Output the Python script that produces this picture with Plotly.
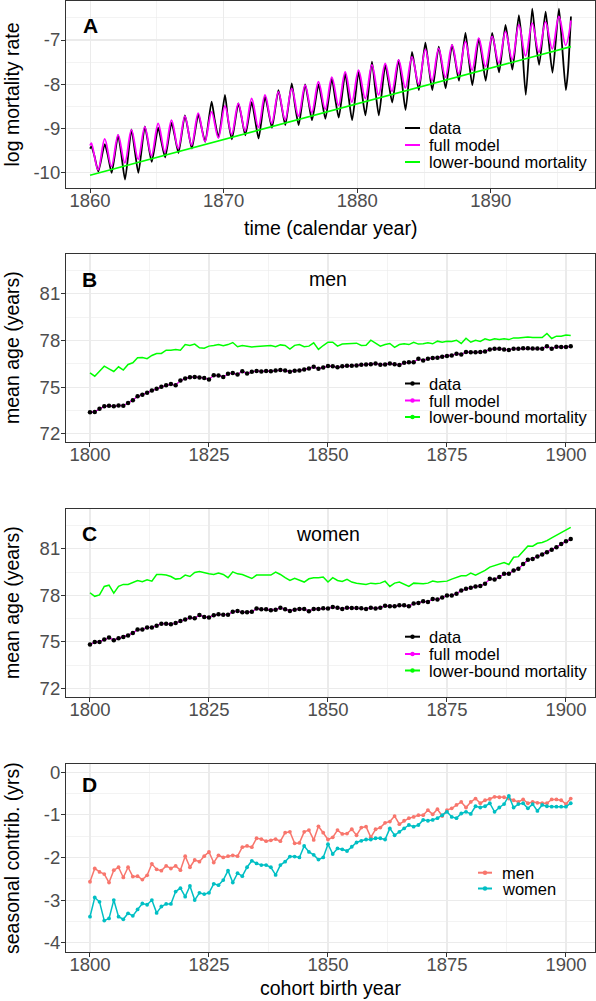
import plotly.graph_objects as go

W, H = 596, 1001
FONT = "Liberation Sans, Arial, Helvetica, sans-serif"

# ---------------- Panel A: monthly log mortality ----------------
years_a = list(range(1860, 1896))
model_start, model_end = -9.38, -6.56
model_peak = [-9.33, -9.23, -9.14, -9.03, -8.96, -8.88, -8.81, -8.72, -8.65, -8.62,
              -8.49, -8.43, -8.32, -8.24, -8.17, -8.09, -8.02, -7.94, -7.84, -7.72,
              -7.68, -7.56, -7.53, -7.45, -7.38, -7.21, -7.19, -7.11, -7.04, -6.96,
              -6.92, -6.81, -6.66, -6.62, -6.59, -6.47]
model_trough = [-9.93, -9.85, -9.77, -9.69, -9.61, -9.53, -9.45, -9.37, -9.29, -9.21,
                -9.13, -9.05, -8.97, -8.88, -8.80, -8.72, -8.64, -8.56, -8.48, -8.40,
                -8.32, -8.24, -8.16, -8.08, -8.00, -7.92, -7.84, -7.76, -7.68, -7.60,
                -7.52, -7.44, -7.36, -7.28, -7.20, -7.12]
data_start = -9.45
data_peak = [-9.40, -9.35, -9.15, -9.02, -8.95, -8.98, -8.87, -8.70, -8.68, -8.39,
             -8.24, -8.43, -8.40, -8.28, -8.13, -7.98, -8.00, -8.00, -7.87, -7.76,
             -7.72, -7.49, -7.56, -7.45, -7.27, -7.06, -7.15, -7.11, -6.84, -6.97,
             -6.84, -6.66, -6.44, -6.29, -6.36, -6.29]
data_mid = [-9.62, -9.60, -9.55, -9.45, -9.30, -9.28, -9.15, -9.02, -8.95, -8.80,
            -8.80, -8.72, -8.75, -8.58, -8.48, -8.45, -8.35, -8.32, -8.28, -8.22,
            -8.15, -8.05, -7.92, -7.90, -7.65, -7.55, -7.55, -7.45, -7.38, -7.35,
            -7.22, -7.10, -7.05, -6.95, -7.00, -7.10]
data_trough = [-9.97, -10.00, -10.15, -10.00, -9.75, -9.65, -9.55, -9.45, -9.30, -9.20,
               -9.24, -9.15, -9.22, -8.98, -8.92, -8.92, -8.81, -8.78, -8.75, -8.81,
               -8.70, -8.70, -8.41, -8.58, -8.13, -8.13, -8.09, -7.92, -8.02, -7.92,
               -7.73, -7.67, -8.24, -7.56, -7.74, -8.13]
data_tail_t = [1895.78, 1896.0]
data_tail_v = [-7.70, -6.47]
lb_time = [1860, 1896]
lb_vals = [-10.05, -7.15]

# ---------------- Panels B-D: cohorts ----------------
cohort = list(range(1800, 1902))
men_data = [73.38, 73.40, 73.60, 73.76, 73.80, 73.76, 73.82, 73.80, 73.98, 74.15,
            74.41, 74.50, 74.63, 74.78, 74.89, 75.02, 75.12, 75.20, 75.12, 75.42,
            75.55, 75.63, 75.65, 75.61, 75.59, 75.48, 75.76, 75.74, 75.65, 75.85,
            75.91, 75.80, 76.02, 75.87, 75.98, 76.04, 76.00, 76.04, 76.02, 76.06,
            76.09, 76.06, 75.98, 76.05, 76.06, 76.13, 76.20, 76.30, 76.17, 76.26,
            76.35, 76.33, 76.28, 76.33, 76.37, 76.37, 76.39, 76.43, 76.45, 76.47,
            76.52, 76.43, 76.45, 76.52, 76.47, 76.41, 76.56, 76.60, 76.60, 76.82,
            76.71, 76.82, 76.86, 76.88, 76.95, 76.99, 77.03, 77.14, 77.10, 77.25,
            77.23, 77.23, 77.25, 77.29, 77.42, 77.46, 77.46, 77.42, 77.38, 77.46,
            77.46, 77.50, 77.50, 77.48, 77.48, 77.46, 77.63, 77.46, 77.59, 77.57,
            77.57, 77.63]
men_model = [73.40, 73.42, 73.60, 73.74, 73.80, 73.78, 73.81, 73.82, 73.98, 74.16,
             74.40, 74.50, 74.62, 74.77, 74.90, 75.02, 75.11, 75.19, 75.14, 75.40,
             75.55, 75.62, 75.64, 75.62, 75.58, 75.50, 75.74, 75.73, 75.66, 75.84,
             75.90, 75.82, 76.00, 75.88, 75.97, 76.03, 76.01, 76.03, 76.02, 76.06,
             76.08, 76.06, 75.99, 76.05, 76.07, 76.12, 76.20, 76.28, 76.18, 76.26,
             76.34, 76.33, 76.29, 76.33, 76.36, 76.37, 76.39, 76.42, 76.45, 76.47,
             76.50, 76.44, 76.46, 76.51, 76.47, 76.42, 76.55, 76.60, 76.62, 76.80,
             76.72, 76.81, 76.86, 76.88, 76.94, 76.99, 77.04, 77.12, 77.11, 77.24,
             77.23, 77.23, 77.25, 77.30, 77.41, 77.45, 77.46, 77.42, 77.39, 77.46,
             77.47, 77.49, 77.50, 77.48, 77.47, 77.47, 77.60, 77.48, 77.58, 77.57,
             77.57, 77.62]
men_lb = [75.91, 75.70, 76.02, 76.34, 76.17, 76.00, 76.30, 76.09, 76.45, 76.56,
          76.88, 76.90, 76.82, 77.03, 77.16, 77.16, 77.37, 77.37, 77.42, 77.37,
          77.73, 77.67, 77.76, 77.52, 77.50, 77.63, 77.67, 77.73, 77.65, 77.73,
          77.86, 77.59, 77.67, 77.61, 77.57, 77.61, 77.63, 77.63, 77.67, 77.59,
          77.71, 77.67, 77.44, 77.68, 77.73, 77.59, 77.63, 77.84, 77.42, 77.67,
          77.88, 77.88, 77.63, 77.76, 77.78, 77.78, 77.82, 77.67, 77.69, 78.01,
          77.84, 77.63, 77.73, 77.80, 77.55, 77.73, 77.78, 77.73, 77.88, 77.76,
          77.78, 77.84, 77.78, 77.95, 77.88, 77.95, 77.93, 78.01, 77.80, 78.14,
          77.88, 78.01, 77.93, 78.10, 78.01, 78.10, 78.05, 78.10, 78.05, 78.16,
          78.16, 78.18, 78.22, 78.18, 78.18, 78.18, 78.44, 78.12, 78.27, 78.27,
          78.35, 78.31]
women_data = [74.83, 75.00, 75.00, 75.16, 75.28, 75.11, 75.24, 75.32, 75.41, 75.58,
              75.80, 75.80, 75.93, 75.93, 76.05, 76.18, 76.18, 76.14, 76.22, 76.35,
              76.44, 76.57, 76.52, 76.74, 76.61, 76.57, 76.72, 76.78, 76.76, 76.76,
              76.95, 77.00, 76.91, 76.91, 76.95, 77.15, 77.11, 77.11, 77.04, 77.08,
              77.21, 77.11, 77.00, 77.08, 77.13, 77.13, 76.98, 77.13, 77.13, 77.17,
              77.15, 77.26, 77.21, 77.13, 77.21, 77.19, 77.19, 77.17, 77.13, 77.21,
              77.15, 77.21, 77.34, 77.30, 77.30, 77.36, 77.36, 77.30, 77.47, 77.51,
              77.62, 77.58, 77.77, 77.73, 77.86, 78.00, 78.00, 78.11, 78.32, 78.43,
              78.49, 78.58, 78.60, 78.75, 79.07, 79.03, 79.18, 79.39, 79.39, 79.61,
              79.71, 80.03, 80.29, 80.35, 80.50, 80.63, 80.78, 80.95, 81.10, 81.32,
              81.49, 81.64]
women_model = [74.85, 74.98, 75.02, 75.15, 75.26, 75.13, 75.24, 75.31, 75.42, 75.57,
               75.78, 75.81, 75.92, 75.94, 76.05, 76.17, 76.18, 76.15, 76.22, 76.34,
               76.44, 76.55, 76.53, 76.72, 76.62, 76.58, 76.71, 76.77, 76.76, 76.77,
               76.94, 76.99, 76.92, 76.91, 76.96, 77.13, 77.11, 77.10, 77.05, 77.08,
               77.19, 77.11, 77.02, 77.08, 77.12, 77.12, 77.00, 77.12, 77.13, 77.16,
               77.16, 77.24, 77.20, 77.14, 77.20, 77.19, 77.19, 77.17, 77.14, 77.20,
               77.16, 77.22, 77.32, 77.30, 77.31, 77.35, 77.35, 77.31, 77.46, 77.51,
               77.60, 77.59, 77.75, 77.74, 77.86, 77.98, 78.01, 78.12, 78.30, 78.42,
               78.49, 78.57, 78.61, 78.75, 79.04, 79.04, 79.18, 79.37, 79.40, 79.60,
               79.72, 80.02, 80.27, 80.36, 80.50, 80.63, 80.78, 80.95, 81.11, 81.31,
               81.48, 81.63]
women_lb = [78.17, 77.94, 78.03, 78.58, 78.66, 78.15, 78.58, 78.71, 78.71, 78.84,
            78.96, 78.88, 79.01, 78.92, 79.35, 79.35, 79.31, 79.22, 79.05, 79.09,
            79.31, 79.22, 79.48, 79.54, 79.44, 79.39, 79.35, 79.44, 79.35, 79.14,
            79.52, 79.39, 79.35, 79.22, 79.09, 79.31, 79.31, 79.31, 79.31, 79.50,
            79.35, 79.14, 78.96, 79.10, 78.96, 78.86, 79.07, 79.14, 79.14, 79.18,
            78.86, 79.14, 78.96, 78.90, 79.03, 78.86, 78.79, 78.75, 78.71, 78.79,
            78.75, 78.79, 78.92, 78.58, 78.79, 78.86, 78.71, 78.58, 78.79, 78.75,
            78.75, 78.79, 78.92, 78.86, 78.88, 78.92, 79.05, 79.18, 79.26, 79.26,
            79.44, 79.31, 79.44, 79.61, 79.82, 79.93, 80.03, 80.12, 79.99, 80.46,
            80.50, 80.85, 81.19, 81.17, 81.36, 81.41, 81.53, 81.71, 81.88, 82.07,
            82.27, 82.39]
seas_men = [-2.57, -2.26, -2.34, -2.39, -2.59, -2.30, -2.23, -2.47, -2.23, -2.45,
            -2.44, -2.52, -2.42, -2.15, -2.28, -2.31, -2.20, -2.26, -2.20, -2.30,
            -1.97, -2.23, -2.06, -2.10, -1.97, -1.87, -2.12, -1.95, -2.00, -1.97,
            -1.95, -1.97, -1.76, -1.73, -1.76, -1.55, -1.57, -1.62, -1.60, -1.57,
            -1.62, -1.42, -1.40, -1.67, -1.66, -1.40, -1.36, -1.59, -1.27, -1.42,
            -1.58, -1.53, -1.36, -1.45, -1.44, -1.34, -1.48, -1.30, -1.28, -1.53,
            -1.34, -1.30, -1.19, -1.16, -1.03, -1.22, -1.14, -1.08, -1.05, -1.01,
            -1.01, -0.89, -0.99, -0.87, -1.03, -0.89, -0.85, -0.77, -0.70, -0.83,
            -0.70, -0.62, -0.73, -0.66, -0.63, -0.58, -0.59, -0.59, -0.62, -0.66,
            -0.70, -0.64, -0.73, -0.70, -0.72, -0.73, -0.73, -0.64, -0.64, -0.66,
            -0.75, -0.62]
seas_women = [-3.39, -2.94, -3.04, -3.48, -3.43, -3.00, -3.39, -3.45, -3.31, -3.37,
              -3.22, -3.08, -3.11, -3.00, -3.30, -3.15, -3.09, -3.09, -2.80, -2.72,
              -2.92, -2.67, -3.00, -2.83, -2.86, -2.83, -2.62, -2.65, -2.53, -2.31,
              -2.59, -2.37, -2.44, -2.23, -2.08, -2.14, -2.18, -2.18, -2.23, -2.41,
              -2.18, -2.10, -1.98, -1.98, -2.00, -1.73, -1.87, -1.94, -2.05, -2.00,
              -1.69, -1.92, -1.79, -1.81, -1.85, -1.75, -1.65, -1.61, -1.58, -1.58,
              -1.55, -1.55, -1.58, -1.32, -1.48, -1.40, -1.32, -1.24, -1.28, -1.24,
              -1.12, -1.14, -1.12, -1.08, -1.01, -0.93, -1.05, -1.08, -0.97, -0.93,
              -0.98, -0.80, -0.83, -0.80, -0.73, -0.93, -0.83, -0.75, -0.56, -0.83,
              -0.75, -0.73, -0.85, -0.75, -0.91, -0.77, -0.80, -0.81, -0.81, -0.81,
              -0.81, -0.73]

xt_a = [1860, 1870, 1880, 1890]
xt_c = [1800, 1825, 1850, 1875, 1900]
yt_a = [-10, -9, -8, -7]
yt_a_txt = ["-10", "-9", "-8", "-7"]
yt_b = [72, 75, 78, 81]
yt_d = [-4, -3, -2, -1, 0]
yt_d_txt = ["-4", "-3", "-2", "-1", "0"]

# ---- colours ----
BLACK, MAGENTA, GREEN = "#000000", "#FF00FF", "#00FF00"
SALMON, TEAL = "#F8766D", "#00BFC4"

# ---- build panel A series from the arrays ----
t_model, v_model = [1860.0], [model_start]
for i, yr in enumerate(years_a):
    t_model += [yr + 0.1, yr + 0.6]
    v_model += [model_peak[i], model_trough[i]]
t_model.append(1896.0)
v_model.append(model_end)

t_data, v_data = [1860.0], [data_start]
for i, yr in enumerate(years_a):
    t_data += [yr + 0.1, yr + 0.33, yr + 0.62]
    v_data += [data_peak[i], data_mid[i], data_trough[i]]
t_data += data_tail_t
v_data += data_tail_v

fig = go.Figure()

# Panel A
fig.add_trace(go.Scatter(x=t_data, y=v_data, mode="lines", xaxis="x", yaxis="y",
                         line=dict(color=BLACK, width=1.8, shape="spline", smoothing=0.6),
                         name="data", showlegend=False))
fig.add_trace(go.Scatter(x=t_model, y=v_model, mode="lines", xaxis="x", yaxis="y",
                         line=dict(color=MAGENTA, width=1.8, shape="spline", smoothing=1.0),
                         name="full model", showlegend=False))
fig.add_trace(go.Scatter(x=lb_time, y=lb_vals, mode="lines", xaxis="x", yaxis="y",
                         line=dict(color=GREEN, width=1.6),
                         name="lower-bound mortality", showlegend=False))

# Panels B and C
for ax, dat, mod, lb in [("2", men_data, men_model, men_lb), ("3", women_data, women_model, women_lb)]:
    fig.add_trace(go.Scatter(x=cohort, y=lb, mode="lines", xaxis="x" + ax, yaxis="y" + ax,
                             line=dict(color=GREEN, width=1.5), showlegend=False))
    fig.add_trace(go.Scatter(x=cohort, y=dat, mode="lines", xaxis="x" + ax, yaxis="y" + ax,
                             line=dict(color=BLACK, width=1), showlegend=False))
    fig.add_trace(go.Scatter(x=cohort, y=mod, mode="lines", xaxis="x" + ax, yaxis="y" + ax,
                             line=dict(color=MAGENTA, width=1.2), showlegend=False))
    fig.add_trace(go.Scatter(x=cohort, y=dat, mode="markers", xaxis="x" + ax, yaxis="y" + ax,
                             marker=dict(color=BLACK, size=4.5), showlegend=False))

# Panel D
for vals, col in [(seas_men, SALMON), (seas_women, TEAL)]:
    fig.add_trace(go.Scatter(x=cohort, y=vals, mode="lines+markers", xaxis="x4", yaxis="y4",
                             line=dict(color=col, width=1.5), marker=dict(color=col, size=3.8),
                             showlegend=False))

XDOM = [66 / W, 595 / W]


def ydom(top, bot):
    return [1 - bot / H, 1 - top / H]


common = dict(showline=True, mirror=True, linecolor="#333333", linewidth=1.1,
              ticks="outside", ticklen=4, tickwidth=1, tickcolor="#333333",
              showgrid=True, gridcolor="#EBEBEB", gridwidth=1.1, zeroline=False,
              automargin=False,
              tickfont=dict(family=FONT, size=18.5, color="#4D4D4D"))
XC = dict(common, ticklabelstandoff=-8)
YC = dict(common, ticklabelstandoff=-3)
MINOR = dict(showgrid=True, gridcolor="#EBEBEB", gridwidth=0.6)

fig.update_layout(
    width=W, height=H, margin=dict(l=0, r=0, t=0, b=0, autoexpand=False),
    paper_bgcolor="white", plot_bgcolor="white",
    font=dict(family=FONT, color="black"),
    showlegend=False,
    xaxis=dict(domain=XDOM, anchor="y", range=[1858.2, 1897.8], tickvals=xt_a,
               minor=dict(dtick=5, tick0=1860, **MINOR), **XC),
    yaxis=dict(domain=ydom(1, 188), anchor="x", range=[-10.34, -6.12], tickvals=yt_a, ticktext=yt_a_txt,
               minor=dict(dtick=0.5, tick0=-10, **MINOR), **YC),
    xaxis2=dict(domain=XDOM, anchor="y2", range=[1794.96, 1906.1], tickvals=xt_c,
                minor=dict(dtick=12.5, tick0=1800, **MINOR), **XC),
    yaxis2=dict(domain=ydom(254, 442), anchor="x2", range=[71.47, 83.55], tickvals=yt_b,
                minor=dict(dtick=1.5, tick0=72, **MINOR), **YC),
    xaxis3=dict(domain=XDOM, anchor="y3", range=[1794.96, 1906.1], tickvals=xt_c,
                minor=dict(dtick=12.5, tick0=1800, **MINOR), **XC),
    yaxis3=dict(domain=ydom(509.3, 696.7), anchor="x3", range=[71.47, 83.55], tickvals=yt_b,
                minor=dict(dtick=1.5, tick0=72, **MINOR), **YC),
    xaxis4=dict(domain=XDOM, anchor="y4", range=[1794.96, 1906.1], tickvals=xt_c,
                minor=dict(dtick=12.5, tick0=1800, **MINOR), **XC),
    yaxis4=dict(domain=ydom(764, 951.7), anchor="x4", range=[-4.21, 0.19], tickvals=yt_d, ticktext=yt_d_txt,
                minor=dict(dtick=0.5, tick0=-4, **MINOR), **YC),
)

ann = []
shapes = []

# axis titles
TITLE_FONT = dict(family=FONT, size=19.5, color="black")
for txt, cy in [("log mortality rate", 94.5), ("mean age (years)", 348),
                ("mean age (years)", 603), ("seasonal contrib. (yrs)", 858)]:
    ann.append(dict(text=txt, x=12 / W, y=1 - cy / H, xref="paper", yref="paper",
                    textangle=-90, showarrow=False, xanchor="center", yanchor="middle", font=TITLE_FONT))
for txt, cy in [("time (calendar year)", 228), ("cohort birth year", 988)]:
    ann.append(dict(text=txt, x=330.5 / W, y=1 - cy / H, xref="paper", yref="paper",
                    showarrow=False, xanchor="center", yanchor="middle", font=TITLE_FONT))

# panel letters and sub-titles
LET = dict(family=FONT, size=21, color="black")
for letter, ax, xv, yv in [("A", "", 1860, -6.68), ("B", "2", 1800, 81.92),
                           ("C", "3", 1800, 81.96), ("D", "4", 1800, -0.30)]:
    ann.append(dict(text="<b>%s</b>" % letter, x=xv, y=yv, xref="x" + ax, yref="y" + ax,
                    showarrow=False, xanchor="center", yanchor="middle", font=LET))
for txt, ax, yv in [("men", "2", 81.92), ("women", "3", 81.96)]:
    ann.append(dict(text=txt, x=1850, y=yv, xref="x" + ax, yref="y" + ax, showarrow=False,
                    xanchor="center", yanchor="middle", font=dict(family=FONT, size=19.5, color="black")))

# hand-made legends (key glyphs + text)
LEG_FONT = dict(family=FONT, size=16.5, color="black")


def legend(items, rows, x0, x1, tx, dots):
    for (label, col), ry in zip(items, rows):
        yp = 1 - ry / H
        shapes.append(dict(type="line", xref="paper", yref="paper", x0=x0 / W, x1=x1 / W,
                           y0=yp, y1=yp, line=dict(color=col, width=2)))
        if dots:
            cx = (x0 + x1) / 2
            shapes.append(dict(type="circle", xref="paper", yref="paper",
                               x0=(cx - 2.2) / W, x1=(cx + 2.2) / W,
                               y0=yp - 2.2 / H, y1=yp + 2.2 / H,
                               fillcolor=col, line=dict(color=col, width=0)))
        ann.append(dict(text=label, x=tx / W, y=yp, xref="paper", yref="paper", showarrow=False,
                        xanchor="left", yanchor="middle", font=LEG_FONT))


three = [("data", BLACK), ("full model", MAGENTA), ("lower-bound mortality", GREEN)]
legend(three, [128, 145, 162], 405, 420, 427, False)
legend(three, [383.5, 400.5, 417], 405, 420, 427, True)
legend(three, [636.7, 654, 670.5], 405, 420, 427, True)
legend([("men", SALMON), ("women", TEAL)], [872.7, 888.5], 478, 492, 500, True)

fig.update_layout(annotations=ann, shapes=shapes)
fig.write_html("out.html", config={"displayModeBar": False, "staticPlot": True},
               post_script="document.body.style.margin='0px';document.body.style.padding='0px';")
